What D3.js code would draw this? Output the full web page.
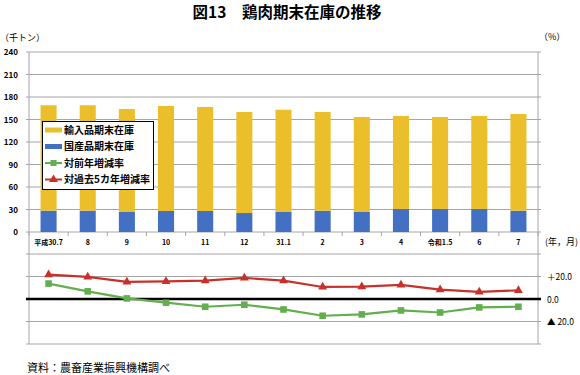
<!DOCTYPE html>
<html><head><meta charset="utf-8">
<script src="https://cdn.jsdelivr.net/npm/d3@7"></script>
<style>
body{margin:0;background:#fff;}
text{font-family:"Noto Sans CJK JP","Noto Sans",sans-serif;}
</style></head>
<body><svg id="c" width="580" height="375"></svg>
<script>
const categories = ["平成30.7","8","9","10","11","12","31.1","2","3","4","令和1.5","6","7"];
const domestic = [28.5,28.5,26.7,28,28,25.3,26.7,28.4,26.7,30.7,30.7,30.7,28.4];
const total = [169,169,164,168,166.7,160,163,160,153.3,154.7,153.3,154.7,157.3];
const imported = total.map((t,i)=>t-domestic[i]);
const yoy = [13.7,6.8,0.5,-3.3,-6.9,-5.1,-9.3,-14.9,-13.7,-10.2,-12,-7.5,-6.9];
const vs5yr = [21.7,19.6,15.2,15.7,16.3,18.7,16.3,10.7,11,12.5,8.3,6.3,7.7];
const topTicks = [0,30,60,90,120,150,180,210,240];
const botTicks = [-40,-20,0,20,40];
const botTickLabels = {"20":"＋20.0","0":"0.0","-20":"▲ 20.0"};
const legendItems = ["輸入品期末在庫","国産品期末在庫","対前年増減率","対過去5カ年増減率"];

const C = {yellow:"#EBBF2C", blue:"#4370C2", green:"#63AE4E", red:"#C8312B", grid:"#A6A6A6"};
const svg = d3.select("#c");
const L=29, R=538;
const x = d3.scaleBand().domain(categories).range([L,R]).paddingInner(0.59).paddingOuter(0.295);
const yT = d3.scaleLinear().domain([0,240]).range([232,52]);
const yB = d3.scaleLinear().domain([-40,40]).range([344,254]);

// title
svg.append("text").attr("x",287).attr("y",18).attr("text-anchor","middle")
  .attr("font-size",15.5).attr("font-weight","bold").text("図13　鶏肉期末在庫の推移");
svg.append("text").attr("x",0).attr("y",41).attr("font-size",9).text("（千トン）");
svg.append("text").attr("x",539).attr("y",40).attr("font-size",9).text("（%）");

// top grid
svg.append("g").selectAll("line").data(topTicks).join("line")
  .attr("x1",L-3).attr("x2",R+3).attr("y1",d=>yT(d)).attr("y2",d=>yT(d))
  .attr("stroke",C.grid).attr("stroke-width",1);
svg.append("g").selectAll("text").data(topTicks).join("text")
  .attr("x",18).attr("y",d=>yT(d)+3).attr("text-anchor","end")
  .attr("font-size",8).attr("font-weight","bold").text(d=>d);

// bars
const stack = categories.map((c,i)=>({c, dom:domestic[i], imp:imported[i]}));
svg.append("g").selectAll("rect").data(stack).join("rect")
  .attr("x",d=>x(d.c)).attr("width",x.bandwidth())
  .attr("y",d=>yT(d.dom)).attr("height",d=>yT(0)-yT(d.dom)).attr("fill",C.blue);
svg.append("g").selectAll("rect").data(stack).join("rect")
  .attr("x",d=>x(d.c)).attr("width",x.bandwidth())
  .attr("y",d=>yT(d.dom+d.imp)).attr("height",d=>yT(d.dom)-yT(d.dom+d.imp)).attr("fill",C.yellow);

// x axis ticks at boundaries
const step = x.step();
const bounds = d3.range(categories.length+1).map(i=>L+i*step);
svg.append("g").selectAll("line").data(bounds).join("line")
  .attr("x1",d=>d).attr("x2",d=>d).attr("y1",232).attr("y2",236)
  .attr("stroke",C.grid);
svg.append("g").selectAll("text").data(categories).join("text")
  .attr("x",d=>x(d)+x.bandwidth()/2).attr("y",245).attr("text-anchor","middle")
  .attr("font-size",7).attr("font-weight","bold").text(d=>d);
svg.append("text").attr("x",545).attr("y",245).attr("font-size",9).text("(年，月)");

// borders
svg.append("line").attr("x1",L).attr("x2",L).attr("y1",52).attr("y2",344).attr("stroke",C.grid);
svg.append("line").attr("x1",R).attr("x2",R).attr("y1",52).attr("y2",344).attr("stroke",C.grid);

// bottom grid
svg.append("g").selectAll("line").data(botTicks.filter(d=>d!==0)).join("line")
  .attr("x1",L-3).attr("x2",R+3).attr("y1",d=>yB(d)).attr("y2",d=>yB(d))
  .attr("stroke",C.grid);
svg.append("line").attr("x1",L-3).attr("x2",R+3).attr("y1",yB(0)).attr("y2",yB(0))
  .attr("stroke","#000").attr("stroke-width",2.5);
svg.append("g").selectAll("text").data([20,0,-20]).join("text")
  .attr("x",547).attr("y",d=>yB(d)+3.5).attr("font-size",8.5).text(d=>botTickLabels[d]);

// lines
const cx = (i)=>x(categories[i])+x.bandwidth()/2;
function drawLine(vals,color){
  svg.append("path").datum(vals).attr("fill","none").attr("stroke",color).attr("stroke-width",2.2)
    .attr("d",d3.line().x((d,i)=>cx(i)).y(d=>yB(d)));
}
drawLine(yoy,C.green);
drawLine(vs5yr,C.red);
svg.append("g").selectAll("rect").data(yoy).join("rect")
  .attr("x",(d,i)=>cx(i)-3.3).attr("y",d=>yB(d)-3.3).attr("width",6.6).attr("height",6.6).attr("fill",C.green);
const tri = d3.symbol().type(d3.symbolTriangle).size(34);
svg.append("g").selectAll("path").data(vs5yr).join("path")
  .attr("transform",(d,i)=>`translate(${cx(i)},${yB(d)})`).attr("d",tri).attr("fill",C.red);

// legend
const lg = svg.append("g");
lg.append("rect").attr("x",42.5).attr("y",121.5).attr("width",111).attr("height",68)
  .attr("fill","#fff").attr("stroke","#000").attr("stroke-width",1);
const ly = [130,146.5,163,179.5];
lg.append("rect").attr("x",45).attr("y",ly[0]-2.5).attr("width",17).attr("height",5).attr("fill",C.yellow);
lg.append("rect").attr("x",45).attr("y",ly[1]-2.5).attr("width",17).attr("height",5).attr("fill",C.blue);
lg.append("line").attr("x1",45).attr("x2",62).attr("y1",ly[2]).attr("y2",ly[2]).attr("stroke",C.green).attr("stroke-width",2);
lg.append("rect").attr("x",50.5).attr("y",ly[2]-3).attr("width",6).attr("height",6).attr("fill",C.green);
lg.append("line").attr("x1",45).attr("x2",62).attr("y1",ly[3]).attr("y2",ly[3]).attr("stroke",C.red).attr("stroke-width",2);
lg.append("path").attr("transform",`translate(53.5,${ly[3]})`).attr("d",tri).attr("fill",C.red);
lg.selectAll("text").data(legendItems).join("text")
  .attr("x",64).attr("y",(d,i)=>ly[i]+3.5).attr("font-size",10).attr("font-weight","bold").text(d=>d);

// source
svg.append("text").attr("x",27).attr("y",372).attr("font-size",11).text("資料：農畜産業振興機構調べ");
</script></body></html>
